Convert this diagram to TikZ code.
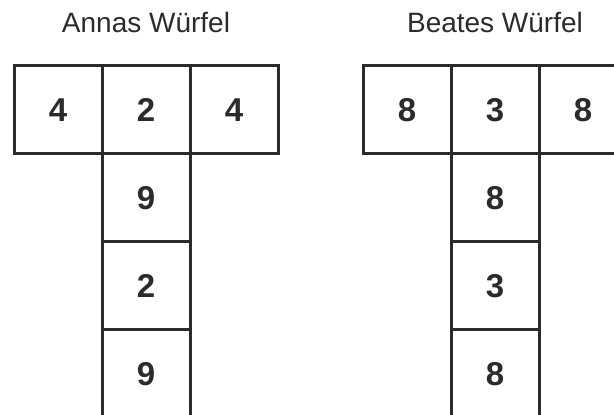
\documentclass[tikz,border=0pt]{standalone}
\usepackage{fontspec}
\setmainfont{Liberation Sans}
\definecolor{ink}{HTML}{2B2B2B}
\begin{document}
\begin{tikzpicture}[x=1pt,y=1pt,
  cell/.style={draw=ink, line width=3pt, minimum width=88pt, minimum height=88pt, inner sep=0pt, text=ink, font=\fontsize{33}{33}\selectfont\bfseries, anchor=center},
  ttl/.style={text=ink, font=\fontsize{28}{28}\selectfont, anchor=base}]
\useasboundingbox (0,0) rectangle (614,415);
\clip (0,0) rectangle (614,415);
\fill[white] (0,0) rectangle (614,415);
% titles
\node[ttl] (ta) at (146,382) {Annas Würfel};
\node[ttl] (tb) at (495,382) {Beates Würfel};
% Anna
\node[cell] (a1) at (58,305) {4};
\node[cell] (a2) at (146,305) {2};
\node[cell] (a3) at (234,305) {4};
\node[cell] (a4) at (146,217) {9};
\node[cell] (a5) at (146,129) {2};
\node[cell] (a6) at (146,41) {9};
% Beate
\node[cell] (b1) at (407,305) {8};
\node[cell] (b2) at (495,305) {3};
\node[cell] (b3) at (583,305) {8};
\node[cell] (b4) at (495,217) {8};
\node[cell] (b5) at (495,129) {3};
\node[cell] (b6) at (495,41) {8};
\end{tikzpicture}
\end{document}
